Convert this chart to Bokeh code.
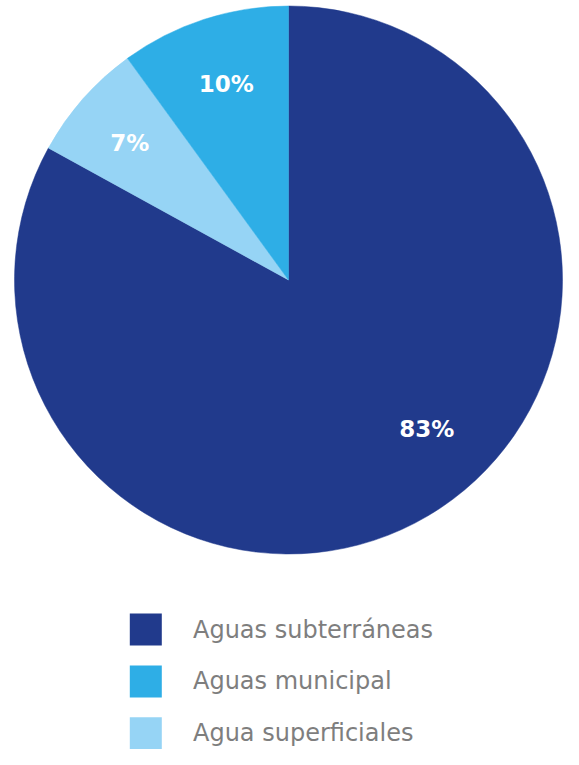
import math
from bokeh.plotting import figure
from bokeh.models import Range1d, ColumnDataSource
from bokeh.core.properties import value
from bokeh.embed import file_html
from bokeh.resources import INLINE

# ---- data ----
categories = ["Aguas subterráneas", "Agua superficiales", "Aguas municipal"]
shares = [83, 7, 10]
colors = ["#213A8C", "#96D4F5", "#2EAEE6"]
labels = ["83%", "7%", "10%"]

legend_order = ["Aguas subterráneas", "Aguas municipal", "Agua superficiales"]

# ---- layout (pixels, fitted into the 563x749 page area) ----
W, H = 563, 749
cx, cy_px, R = 288, 279.5, 274
label_r = [203, 210, 206]
label_angle_shift = [-12.3, -0.5, 0.4]  # degrees, clockwise-from-top adjustments

p = figure(width=W, height=H, output_backend="svg", toolbar_location=None,
           x_range=Range1d(0, W), y_range=Range1d(0, H), min_border=0)
p.axis.visible = False
p.grid.visible = False
p.outline_line_color = None
p.background_fill_color = "white"
p.border_fill_color = "white"

cy = H - cy_px
total = sum(shares)
start_cw = 0.0  # clockwise from top, degrees
starts, ends, lx, ly = [], [], [], []
for i, s in enumerate(shares):
    span = s / total * 360.0
    a0 = start_cw
    a1 = start_cw + span
    starts.append(math.radians(90 - a1))
    ends.append(math.radians(90 - a0))
    mid = (a0 + a1) / 2 + label_angle_shift[i]
    lx.append(cx + label_r[i] * math.sin(math.radians(mid)))
    ly.append(cy + label_r[i] * math.cos(math.radians(mid)))
    start_cw = a1

src = ColumnDataSource(dict(start=starts, end=ends, color=colors, cat=categories))
p.wedge(x=cx, y=cy, radius=R, radius_units="screen", start_angle="start", end_angle="end",
        fill_color="color", line_color="color", line_width=0.5, source=src)

p.text(x=lx, y=ly, text=labels, text_color="white", text_font=value("DejaVu Sans"),
       text_font_style="bold", text_font_size="23px", text_align="center",
       text_baseline="middle")

# legend
leg_y_px = [629.1, 680.9, 732.8]
sq = 32
for j, name in enumerate(legend_order):
    col = colors[categories.index(name)]
    yy = H - leg_y_px[j]
    p.rect(x=129.3 + sq / 2, y=yy, width=sq, height=sq, fill_color=col, line_color=None)
    p.text(x=[192.5], y=[yy], text=[name], text_color="#7E7E7E", text_font=value("DejaVu Sans"),
           text_font_size="24px", text_baseline="middle", text_align="left")

open("out.html", "w").write(file_html(p, INLINE))
